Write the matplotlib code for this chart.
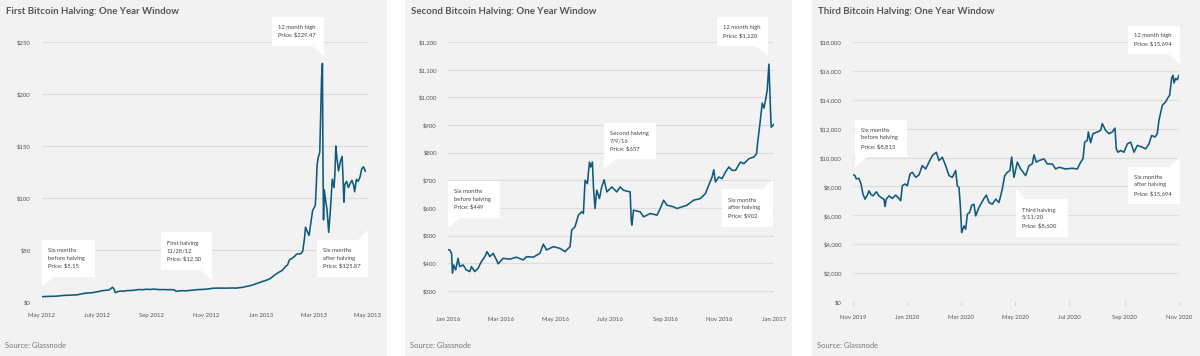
import numpy as np
import pandas as pd
import matplotlib
matplotlib.use('Agg')
import matplotlib.pyplot as plt
from matplotlib.patches import Rectangle, Polygon

plt.rcParams['font.family'] = ['Lato', 'DejaVu Sans']

W, H = 1200, 356
BG = '#f2f2f2'
LINE = '#0e5a7c'
GRID = '#dcdcdc'
TXT = '#555555'

# ---- data: first halving (11/28/12) ----
p1_start = '2012-05-28'
p1_days = [0, 5, 10, 15, 20, 24, 30, 35, 40, 43, 48, 52, 56, 59, 63, 67, 71, 75, 79, 81,
           82, 85, 88, 91, 94, 98, 102, 106, 109, 113, 117, 121, 125, 128, 132, 136, 140, 144, 148, 150,
           153, 157, 161, 165, 168, 172, 176, 180, 183, 187, 191, 195, 200, 205, 210, 214, 217, 221, 225, 228,
           232, 236, 239, 243, 247, 251, 255, 258, 262, 265, 269, 272, 275, 277, 280, 283, 285, 288, 290, 292,
           294, 295, 297, 299, 301, 303, 305, 306, 307, 308, 309, 311, 312, 313, 314, 314.6, 315.2, 316, 318, 319,
           321, 323, 325, 327, 328, 329, 330, 332, 334, 336, 337, 338, 339, 341, 343, 345, 347, 349, 350, 352,
           354, 356, 358, 360, 362]
p1_price = [5.15, 5.3, 5.5, 5.6, 5.9, 6.3, 6.5, 6.7, 7.0, 7.6, 8.4, 8.7, 8.9, 9.4, 10.0, 10.8, 11.2, 11.6, 14.2, 12.0,
            9.0, 10.0, 10.6, 10.3, 10.9, 11.0, 11.2, 11.7, 12.0, 11.8, 12.3, 12.0, 12.4, 12.2, 11.9, 12.0, 11.8, 11.9, 11.7, 10.2,
            10.6, 10.9, 10.7, 11.1, 11.3, 11.7, 12.0, 12.1, 12.3, 12.6, 13.2, 13.3, 13.4, 13.3, 13.4, 13.5, 13.3, 13.8, 14.1, 14.8,
            15.5, 16.4, 17.4, 18.6, 19.8, 20.8, 22.3, 24.2, 26.8, 28.5, 30.4, 33.5, 35.8, 40.5, 42.0, 44.0, 46.0, 46.3, 46.5, 49.0,
            62.0, 72.0, 68.0, 64.0, 76.0, 88.0, 91.0, 93.0, 110.0, 131.0, 138.0, 144.0, 180.0, 215.0, 229.47, 130.0, 79.0, 108.0, 95.0, 90.0,
            67.0, 90.0, 118.0, 110.0, 125.0, 150.0, 140.0, 126.0, 135.0, 140.0, 120.0, 96.0, 113.0, 116.0, 110.0, 114.0, 117.0, 112.0, 106.0, 118.0,
            116.0, 120.0, 128.0, 130.0, 125.87]
p1_ticks = ['2012-05-28', '2012-07-28', '2012-09-28', '2012-11-28', '2013-01-28', '2013-03-28', '2013-05-28']
p1_ticklabels = ['May 2012', 'July 2012', 'Sep 2012', 'Nov 2012', 'Jan 2013', 'Mar 2013', 'May 2013']
p1_yticks = [0, 50, 100, 150, 200, 250]

# ---- data: second halving (7/9/16) ----
p2_start = '2016-01-09'
p2_days = [0, 2, 4, 5, 6.4, 8.6, 11.3, 13.1, 16.9, 20.6, 24.4, 26.3, 30, 33.8, 37.5, 41.3, 43.9, 46.9, 50.7, 54.4,
           56.3, 61.9, 69.4, 76.9, 84.4, 88.2, 95.7, 103.2, 107, 110.7, 118.2, 125.7, 131.4, 137, 138.9, 142.6, 146.4, 150.1, 152, 153.9,
           156.5, 158.8, 160.3, 162.1, 163.3, 165.1, 167, 170, 172.6, 175.3, 178.3, 183.9, 189.5, 193.3, 197, 204.5, 205.7, 206.4, 208.3, 215.8,
           219.6, 227.1, 234.6, 238.3, 242.1, 245.8, 253.3, 257.1, 268.3, 275.8, 283.4, 289, 292.7, 296.5, 298.4, 300.2, 304, 307.7, 311.5, 315.3,
           319, 322.8, 328.4, 332.1, 337.8, 343.4, 346.4, 347.9, 350.2, 352.8, 354.7, 356.5, 358.4, 360.3, 362.2, 362.9, 365.9]
p2_price = [449, 448, 436, 364, 394, 376, 418, 388, 394, 376, 370, 388, 370, 382, 406, 424, 442, 424, 436, 412,
            398, 418, 415, 422, 412, 424, 422, 436, 469, 448, 460, 454, 442, 460, 520, 532, 574, 586, 580, 700,
            688, 766, 748, 766, 676, 598, 664, 634, 676, 702, 658, 676, 658, 676, 664, 658, 556, 538, 592, 586,
            568, 580, 574, 598, 628, 610, 604, 598, 610, 628, 634, 652, 682, 712, 738, 694, 712, 706, 730, 748,
            736, 736, 766, 760, 778, 784, 796, 844, 904, 979, 961, 990, 1026, 1120, 943, 892, 902]
p2_ticks = ['2016-01-09', '2016-03-09', '2016-05-09', '2016-07-09', '2016-09-09', '2016-11-09', '2017-01-09']
p2_ticklabels = ['Jan 2016', 'Mar 2016', 'May 2016', 'July 2016', 'Sep 2016', 'Nov 2016', 'Jan 2017']
p2_yticks = [300, 400, 500, 600, 700, 800, 900, 1000, 1100, 1200]

# ---- data: third halving (5/11/20) ----
p3_start = '2019-11-11'
p3_days = [0, 2.2, 3.7, 6.7, 9, 11.2, 13.5, 16.1, 18, 19.8, 22.5, 26.2, 29.2, 32.9, 34.8, 35.9, 37.4, 40.4, 44.2, 47.9,
           51.6, 53.5, 55.4, 58.4, 61, 64, 66.6, 70.4, 74.1, 77.8, 81.6, 85.3, 89.1, 93.6, 96.5, 100.3, 104, 107.8, 111.5, 115.3,
           117.1, 119, 120.5, 122, 124.6, 126.5, 128.4, 131, 133.2, 135.8, 137.7, 141.4, 147.1, 149.7, 152.7, 156.4, 160.2, 163.9, 167.6, 170.3,
           173.3, 176.2, 178.1, 180.7, 184.5, 188.2, 193.8, 197.6, 201.3, 203.2, 205.8, 208.8, 214.4, 218.2, 223.8, 227.5, 231.3, 238.7, 246.2, 251.8,
           255.6, 258.2, 260.1, 263.1, 264.2, 266.8, 269.4, 274.3, 278, 279.9, 283.6, 287.4, 291.1, 294.1, 295.6, 297.5, 300.5, 304.2, 308, 311.7,
           315.5, 319.2, 324.8, 328.5, 332.3, 335.3, 339, 341.6, 343.5, 347.3, 351, 352.9, 355.5, 357.7, 359.2, 360.4, 362.2, 364.1, 366]
p3_price = [8813, 8750, 8520, 8560, 8170, 7470, 7120, 7400, 7700, 7470, 7350, 7630, 7350, 7170, 7120, 6610, 7120, 7350, 7170, 7400,
            7170, 7010, 8050, 8170, 8050, 8860, 8980, 8630, 8800, 9440, 9210, 9680, 10140, 10370, 9790, 10020, 9440, 8750, 8630, 9100,
            8050, 7930, 6660, 4800, 5270, 5040, 6080, 6200, 6700, 6770, 5960, 6540, 7170, 7400, 6890, 6770, 7120, 6890, 7820, 8750,
            8980, 9100, 10040, 8630, 9680, 9210, 8750, 9440, 9560, 10190, 9680, 9790, 9910, 9560, 9560, 9210, 9330, 9210, 9260, 9210,
            9680, 9910, 11070, 11190, 11770, 11030, 11650, 11770, 11880, 12350, 11880, 11650, 11770, 12040, 10600, 10370, 10490, 10370, 10950, 11070,
            10370, 10840, 10720, 10600, 10950, 11530, 11420, 11650, 12580, 13620, 13850, 14080, 14320, 15480, 15700, 15160, 15480, 15380, 15694]
p3_ticks = ['2019-11-11', '2020-01-11', '2020-03-11', '2020-05-11', '2020-07-11', '2020-09-11', '2020-11-11']
p3_ticklabels = ['Nov 2019', 'Jan 2020', 'Mar 2020', 'May 2020', 'Jul 2020', 'Sep 2020', 'Nov 2020']
p3_yticks = [0, 2000, 4000, 6000, 8000, 10000, 12000, 14000, 16000, 18000]

titles = ['First Bitcoin Halving: One Year Window',
          'Second Bitcoin Halving: One Year Window',
          'Third Bitcoin Halving: One Year Window']

callouts = [
    [('Six months\nbefore halving\nPrice: $5.15', (42, 240, 95, 277), 'bl'),
     ('First halving\n11/28/12\nPrice: $12.30', (161, 232, 212, 270), 'br'),
     ('Six months\nafter halving\nPrice: $125.87', (317, 240, 368, 277), 'tr'),
     ('12 month high\nPrice: $229.47', (272, 17, 324, 46), 'br')],
    [('Six months\nbefore halving\nPrice: $449', (448, 181, 500, 218), 'bl'),
     ('Second halving\n7/9/16\nPrice: $657', (604, 123, 656, 159), 'bl'),
     ('Six months\nafter halving\nPrice: $902', (722, 189, 773, 227), 'tr'),
     ('12 month high\nPrice: $1,120', (717, 17, 768, 46), 'br')],
    [('Six months\nbefore halving\nPrice: $8,813', (855, 120, 907, 157), 'bl'),
     ('Third halving\n5/11/20\nPrice: $8,600', (1016, 199, 1068, 237), 'tl'),
     ('Six months\nafter halving\nPrice: $15,694', (1128, 167, 1180, 204), 'tr'),
     ('12 month high\nPrice: $15,694', (1128, 26, 1180, 54), 'br')],
]


def fx(x):
    return x / W


def fy(y):
    return 1 - y / H


def callout(fig, text, box, corner):
    x0, y0, x1, y1 = box
    fig.patches.append(Rectangle((fx(x0), fy(y1)), fx(x1 - x0), (y1 - y0) / H,
                                 transform=fig.transFigure, facecolor='white',
                                 edgecolor='none', zorder=5))
    if corner == 'bl':
        pts = [(x0, y1), (x0 + 12, y1), (x0, y1 + 10)]
    elif corner == 'br':
        pts = [(x1 - 12, y1), (x1, y1), (x1, y1 + 10)]
    elif corner == 'tr':
        pts = [(x1 - 10, y0), (x1, y0), (x1, y0 - 10)]
    else:
        pts = [(x0, y0), (x0 + 10, y0), (x0, y0 - 10)]
    fig.patches.append(Polygon([(fx(a), fy(b)) for a, b in pts], closed=True,
                               transform=fig.transFigure, facecolor='white',
                               edgecolor='none', zorder=5))
    fig.text(fx(x0 + 6), fy((y0 + y1) / 2), text, fontsize=4.2, color='#444444',
             ha='left', va='center', linespacing=1.55, zorder=6)


def main():
    fig = plt.figure(figsize=(12, 3.56), dpi=100)
    fig.patch.set_facecolor('white')

    panels = [(0, 387), (405, 792), (812, 1200)]
    ax_left = [42, 448, 853]
    data = [(p1_start, p1_days, p1_price, p1_ticks, p1_ticklabels, p1_yticks, (0, 250), 8),
            (p2_start, p2_days, p2_price, p2_ticks, p2_ticklabels, p2_yticks, (260, 1200), 11),
            (p3_start, p3_days, p3_price, p3_ticks, p3_ticklabels, p3_yticks, (0, 18000), 9)]

    for i, (pl, pr) in enumerate(panels):
        fig.patches.append(Rectangle((fx(pl), 0), fx(pr - pl), 1, transform=fig.transFigure,
                                     facecolor=BG, edgecolor='none', zorder=-2))
        fig.text(fx(pl + 6), fy(12), titles[i], fontsize=6.9, fontweight='bold',
                 color=TXT, ha='left', va='center')
        fig.text(fx(pl + 5), fy(346), 'Source: Glassnode', fontsize=5.4, color='#777777',
                 ha='left', va='center')

        start, days, price, ticks, tlabels, yticks, ylim, xpad = data[i]
        dates = pd.Timestamp(start) + pd.to_timedelta(days, unit='D')
        ax = fig.add_axes([fx(ax_left[i]), fy(302), 326 / W, (302 - 42) / H])
        ax.set_facecolor('none')
        ax.plot(dates, price, color=LINE, lw=1.15, zorder=3)
        ax.set_xlim(pd.Timestamp(ticks[0]), pd.Timestamp(ticks[-1]))
        ax.set_ylim(*ylim)
        ax.set_yticks(yticks)
        ax.set_yticklabels([f'${v:,}' for v in yticks])
        ax.set_xticks(pd.to_datetime(ticks))
        ax.set_xticklabels(tlabels)
        ax.grid(axis='y', color=GRID, lw=0.8)
        ax.set_axisbelow(True)
        for s in ax.spines.values():
            s.set_visible(False)
        ax.tick_params(axis='y', length=0, pad=8, labelsize=4.3, labelcolor=TXT)
        if i == 2:
            ax.tick_params(axis='x', length=2.5, width=0.6, color='#c8c8c8', pad=xpad - 2,
                           labelsize=4.3, labelcolor=TXT)
        else:
            ax.tick_params(axis='x', length=0, pad=xpad, labelsize=4.3, labelcolor=TXT)

        for text, box, corner in callouts[i]:
            callout(fig, text, box, corner)

    fig.savefig('out.png', dpi=100, facecolor='white')


if __name__ == '__main__':
    main()
